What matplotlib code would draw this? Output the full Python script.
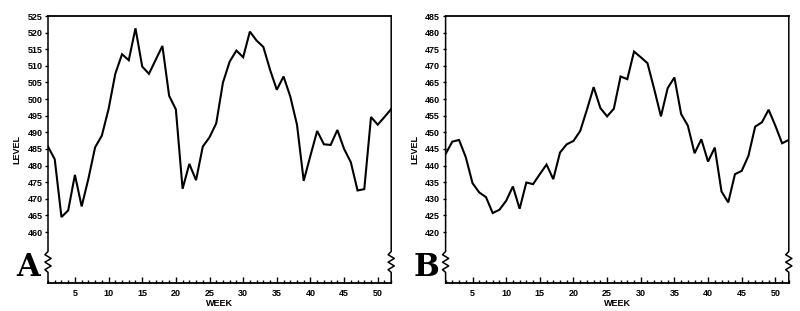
import numpy as np
import matplotlib
matplotlib.use("Agg")
import matplotlib.pyplot as plt
from matplotlib.ticker import MultipleLocator, FixedLocator

weeks = np.arange(1, 53)

level_a = [485.7, 481.9, 464.5, 466.5, 477.2, 467.7, 476.0, 485.5, 489.0, 497.0,
           507.6, 513.5, 511.7, 521.3, 509.8, 507.6, 511.8, 516.0, 501.0, 496.9,
           473.0, 480.5, 475.6, 485.7, 488.5, 492.7, 505.0, 511.3, 514.6, 512.6,
           520.3, 517.6, 515.7, 508.8, 502.8, 506.8, 500.8, 492.3, 475.4, 483.0,
           490.4, 486.4, 486.2, 490.7, 485.0, 481.0, 472.5, 472.9, 494.6, 492.3,
           494.6, 497.0]

level_b = [443.5, 447.2, 447.7, 442.5, 434.7, 431.9, 430.5, 425.7, 426.7, 429.4,
           433.7, 427.0, 434.9, 434.4, 437.4, 440.3, 435.9, 443.9, 446.4, 447.4,
           450.4, 456.8, 463.6, 457.3, 454.8, 457.1, 466.8, 466.0, 474.3, 472.6,
           470.8, 463.0, 454.8, 463.3, 466.5, 455.5, 452.0, 443.7, 447.9, 441.2,
           445.4, 432.2, 428.9, 437.4, 438.4, 442.9, 451.7, 453.0, 456.8, 452.0,
           446.7, 447.7]

panels = [("A", level_a, 460, 525), ("B", level_b, 420, 485)]

plt.rcParams['font.family'] = ['Liberation Sans', 'DejaVu Sans']

fig = plt.figure(figsize=(8, 3.11), dpi=100)
lefts = [0.060, 0.557]

for (tag, vals, lo, hi), left in zip(panels, lefts):
    ax = fig.add_axes([left, 0.090, 0.429, 0.8585])
    ax.plot(weeks, vals, color='black', lw=1.5, solid_joinstyle='miter')
    ax.set_xlim(1, 52)
    ax.set_ylim(lo - 15.35, hi)

    ax.xaxis.set_major_locator(FixedLocator(np.arange(5, 51, 5)))
    ax.xaxis.set_minor_locator(MultipleLocator(1))
    ax.yaxis.set_major_locator(FixedLocator(np.arange(lo, hi + 1, 5)))
    ax.tick_params(axis='x', which='major', direction='in', length=4, width=1,
                   labelsize=6.5, pad=4)
    ax.tick_params(axis='x', which='minor', direction='in', length=2.4, width=1)
    ax.tick_params(axis='y', direction='out', length=2, width=1, labelsize=6.5, pad=2)
    for lab in ax.get_xticklabels() + ax.get_yticklabels():
        lab.set_fontweight('bold')

    ax.set_xlabel('WEEK', fontsize=6.5, fontweight='bold', labelpad=1)
    ax.set_ylabel('LEVEL', fontsize=6.5, fontweight='bold', labelpad=4)

    for s in ['top', 'bottom']:
        ax.spines[s].set_linewidth(1.3)
    ax.spines['left'].set_visible(False)
    ax.spines['right'].set_visible(False)

    # side spines with a zigzag break near the bottom
    zy = [0.0, 0.040, 0.050, 0.064, 0.078, 0.092, 0.106, 0.118, 1.0]
    for x0 in (0.0, 1.0):
        zx = [x0, x0, x0 - 0.009, x0 + 0.009, x0 - 0.009, x0 + 0.009, x0 - 0.009, x0, x0]
        ax.plot(zx, zy, color='black', lw=1.1, transform=ax.transAxes, clip_on=False)

    fig.text(left - 0.040, 0.09, tag, fontsize=22, fontweight='bold',
             family='DejaVu Serif', ha='left', va='bottom')

fig.savefig('out.png', dpi=100, facecolor='white')
